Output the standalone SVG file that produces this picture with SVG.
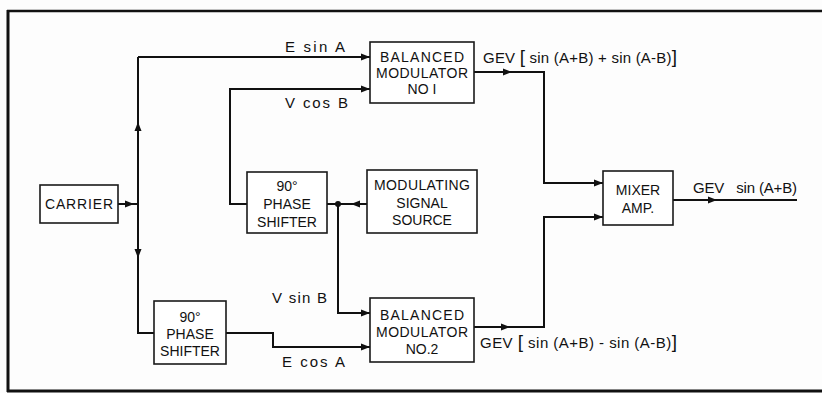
<svg xmlns="http://www.w3.org/2000/svg" xmlns:xlink="http://www.w3.org/1999/xlink" width="822" height="393" viewBox="0 0 822 393">
<style>
.box{fill:#fff;stroke:#1a1a1a;stroke-width:1.6}
.ln{fill:none;stroke:#111;stroke-width:2}
.t{font-family:"Liberation Sans",Arial,sans-serif;font-size:14px;fill:#111;text-anchor:middle}
.l{font-family:"Liberation Sans",Arial,sans-serif;font-size:15px;fill:#111}
.br{font-size:19px}
</style>
<defs>
<path id="ah" d="M0,0 L-9,-3.5 L-9,3.5 Z" fill="#111"/>
</defs>
<rect width="822" height="393" fill="#fdfdfd"/>
<g id="frame" fill="none" stroke="#111">
<line x1="7" y1="11" x2="822" y2="11" stroke-width="2.5"/>
<line x1="8" y1="10" x2="8" y2="392" stroke-width="3"/>
<line x1="7" y1="391" x2="822" y2="391" stroke-width="3"/>
</g>
<g id="connectors">
<path class="ln" d="M118,204 H138"/>
<path class="ln" d="M138,57 V333 H154"/>
<path class="ln" d="M138,57 H370"/>
<path class="ln" d="M247,204 H230 V89 H370"/>
<path class="ln" d="M367,204 H327"/>
<path class="ln" d="M338,204 V313 H370"/>
<path class="ln" d="M226,333 H273 V347 H370"/>
<path class="ln" d="M474,72 H544 V183 H603"/>
<path class="ln" d="M474,327 H544 V217 H603"/>
<path class="ln" d="M673,200 H797"/>
<use xlink:href="#ah" transform="translate(134,204)"/>
<use xlink:href="#ah" transform="translate(138,122) rotate(-90)"/>
<use xlink:href="#ah" transform="translate(138,258) rotate(90)"/>
<use xlink:href="#ah" transform="translate(370,57)"/>
<use xlink:href="#ah" transform="translate(370,89)"/>
<use xlink:href="#ah" transform="translate(351,204) rotate(180)"/>
<circle cx="338" cy="204" r="3" fill="#111"/>
<use xlink:href="#ah" transform="translate(370,313)"/>
<use xlink:href="#ah" transform="translate(370,347)"/>
<use xlink:href="#ah" transform="translate(512,72)"/>
<use xlink:href="#ah" transform="translate(510,327)"/>
<use xlink:href="#ah" transform="translate(603,183)"/>
<use xlink:href="#ah" transform="translate(603,217)"/>
<use xlink:href="#ah" transform="translate(717,200)"/>
</g>
<g id="carrier">
<rect class="box" x="40" y="185" width="78" height="38"/>
<text class="t" x="79" y="209" textLength="68" lengthAdjust="spacing">CARRIER</text>
</g>
<g id="mod1">
<rect class="box" x="370" y="42" width="104" height="61"/>
<text class="t" x="422" y="62" textLength="84" lengthAdjust="spacing">BALANCED</text>
<text class="t" x="422" y="78" textLength="92" lengthAdjust="spacing">MODULATOR</text>
<text class="t" x="422" y="94">NO I</text>
</g>
<g id="ps1">
<rect class="box" x="247" y="172" width="80" height="61"/>
<text class="t" x="287" y="191">90°</text>
<text class="t" x="287" y="209">PHASE</text>
<text class="t" x="287" y="227">SHIFTER</text>
</g>
<g id="source">
<rect class="box" x="367" y="170" width="110" height="63"/>
<text class="t" x="422" y="190" textLength="96" lengthAdjust="spacing">MODULATING</text>
<text class="t" x="422" y="208">SIGNAL</text>
<text class="t" x="422" y="225">SOURCE</text>
</g>
<g id="mod2">
<rect class="box" x="370" y="298" width="104" height="64"/>
<text class="t" x="422" y="320" textLength="84" lengthAdjust="spacing">BALANCED</text>
<text class="t" x="422" y="337" textLength="92" lengthAdjust="spacing">MODULATOR</text>
<text class="t" x="422" y="354">NO.2</text>
</g>
<g id="ps2">
<rect class="box" x="154" y="301" width="72" height="63"/>
<text class="t" x="190" y="322">90°</text>
<text class="t" x="190" y="339">PHASE</text>
<text class="t" x="190" y="356">SHIFTER</text>
</g>
<g id="mixer">
<rect class="box" x="603" y="171" width="70" height="54"/>
<text class="t" x="638" y="195">MIXER</text>
<text class="t" x="638" y="213">AMP.</text>
</g>
<g id="labels">
<text class="l" x="285" y="52" textLength="60" lengthAdjust="spacing">E sin A</text>
<text class="l" x="285" y="108" textLength="63" lengthAdjust="spacing">V cos B</text>
<text class="l" x="272" y="303" textLength="55" lengthAdjust="spacing">V sin B</text>
<text class="l" x="282" y="367" textLength="63" lengthAdjust="spacing">E cos A</text>
<text class="l" x="483" y="63" textLength="194" lengthAdjust="spacing">GEV <tspan class="br">[</tspan> sin (A+B) + sin (A-B)<tspan class="br">]</tspan></text>
<text class="l" x="480" y="348" textLength="197" lengthAdjust="spacing">GEV <tspan class="br">[</tspan> sin (A+B) - sin (A-B)<tspan class="br">]</tspan></text>
<text class="l" x="693" y="193" textLength="104" lengthAdjust="spacing" xml:space="preserve">GEV   sin (A+B)</text>
</g>
</svg>
